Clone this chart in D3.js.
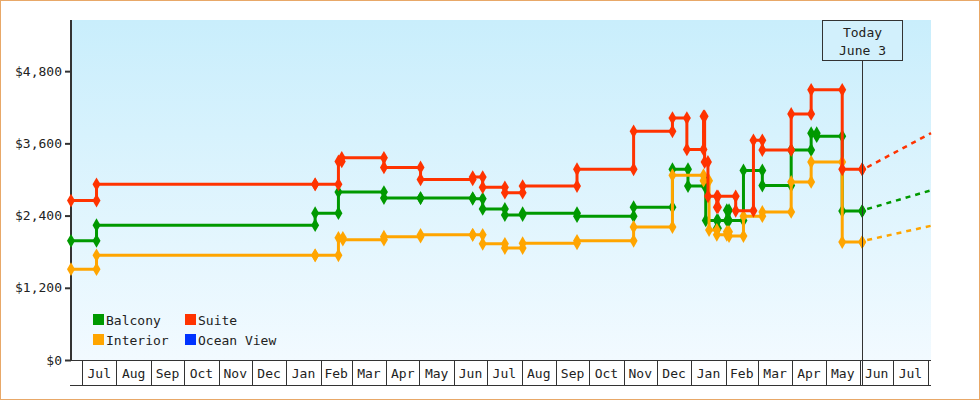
<!DOCTYPE html>
<html><head><meta charset="utf-8">
<script src="https://cdn.jsdelivr.net/npm/d3@7"></script>
<style>body{margin:0;background:#fff}svg{display:block}text{font-family:"DejaVu Sans Mono",monospace;font-size:13px;fill:#222}</style>
</head><body><svg id="c" width="980" height="400"></svg>
<script>
const seriesNames = ["Balcony","Suite","Interior","Ocean View"];
const seriesColors = ["#009900","#ff3300","#ffa500","#0033ff"];
const suite = [["2022-06-21",2650],["2022-07-14",2920],["2023-01-27",2920],["2023-02-17",3300],["2023-02-20",3360],["2023-03-30",3200],["2023-05-02",3000],["2023-06-18",3040],["2023-06-27",2870],["2023-07-17",2780],["2023-08-02",2890],["2023-09-20",3170],["2023-11-10",3800],["2023-12-15",4020],["2023-12-28",3500],["2024-01-12",4050],["2024-01-13",3290],["2024-01-16",2720],["2024-01-24",2540],["2024-01-25",2720],["2024-02-10",2480],["2024-02-26",3650],["2024-03-05",3490],["2024-03-31",4090],["2024-04-18",4490],["2024-05-16",3170],["2024-06-03",3170]];
const balcony = [["2022-06-21",1980],["2022-07-14",2240],["2023-01-27",2440],["2023-02-17",2790],["2023-03-30",2690],["2023-05-02",2690],["2023-06-18",2680],["2023-06-27",2510],["2023-07-17",2410],["2023-08-02",2440],["2023-09-20",2390],["2023-11-10",2540],["2023-12-15",3170],["2023-12-29",2890],["2024-01-13",2970],["2024-01-14",2320],["2024-01-24",2190],["2024-01-25",2320],["2024-02-02",2490],["2024-02-04",2320],["2024-02-17",3150],["2024-03-05",2900],["2024-03-31",3490],["2024-04-18",3770],["2024-04-23",3720],["2024-05-16",2475],["2024-06-03",2475]];
const interior = [["2022-06-21",1510],["2022-07-14",1740],["2023-01-27",1740],["2023-02-17",2030],["2023-02-21",2000],["2023-03-30",2050],["2023-05-02",2080],["2023-06-18",2080],["2023-06-27",1930],["2023-07-17",1860],["2023-08-02",1940],["2023-09-20",1980],["2023-11-10",2210],["2023-12-15",3070],["2024-01-12",2980],["2024-01-17",2160],["2024-01-24",2080],["2024-02-02",2130],["2024-02-04",2060],["2024-02-17",2390],["2024-03-05",2460],["2024-03-31",2960],["2024-04-18",3290],["2024-05-16",1960],["2024-06-03",1960]];
const projectionEnd = {Balcony:2820, Suite:3770, Interior:2230};
const yTicks = [0,1200,2400,3600,4800];
const monthLabels = ["Jul","Aug","Sep","Oct","Nov","Dec","Jan","Feb","Mar","Apr","May","Jun","Jul","Aug","Sep","Oct","Nov","Dec","Jan","Feb","Mar","Apr","May","Jun","Jul"];
const todayLabel = ["Today","June 3"];
const todayDate = "2024-06-03", projDate = "2024-08-04";

const P = d3.timeParse("%Y-%m-%d");
const svg = d3.select("#c");
const L=71,R=931,T=20,B=360;
const x = d3.scaleTime().domain([P("2022-06-21"),P("2024-08-04")]).range([L,R]);
const y = d3.scaleLinear().domain([0,5650]).range([B,T]);
svg.append("rect").attr("x",0.5).attr("y",0.5).attr("width",979).attr("height",399).attr("fill","#fff").attr("stroke","#e8a868");
const g = svg.append("defs").append("linearGradient").attr("id","bg").attr("x1",0).attr("x2",0).attr("y1",0).attr("y2",1);
g.append("stop").attr("offset","0").attr("stop-color","#c9eefc");
g.append("stop").attr("offset","1").attr("stop-color","#f2faff");
svg.append("rect").attr("x",L).attr("y",T).attr("width",R-L).attr("height",B-T).attr("fill","url(#bg)");
// y axis
const ya = svg.append("g").attr("transform",`translate(${L},0)`).call(d3.axisLeft(y).tickValues(yTicks).tickSize(6).tickFormat(d=>"$"+d3.format(",")(d)));
ya.select(".domain").remove();
ya.selectAll("line").attr("stroke","#333").attr("stroke-width",2);
ya.selectAll("text").style("font-family","DejaVu Sans Mono").style("font-size","13px").attr("fill","#333");
svg.append("line").attr("x1",L).attr("x2",L).attr("y1",T).attr("y2",B).attr("stroke","#333").attr("stroke-width",2);
// x axis boxes
const months = d3.timeMonth.range(P("2022-07-01"),P("2024-08-02"));
svg.append("line").attr("x1",L-1).attr("x2",R).attr("y1",B+0.5).attr("y2",B+0.5).attr("stroke","#333");
svg.append("line").attr("x1",L-1).attr("x2",R).attr("y1",385.5).attr("y2",385.5).attr("stroke","#333");
months.forEach((m,i)=>{
  const xx=Math.round(x(m))+0.5;
  svg.append("line").attr("x1",xx).attr("x2",xx).attr("y1",B).attr("y2",385).attr("stroke","#333");
  if(i<monthLabels.length){
    const nx=x(d3.timeMonth.offset(m,1));
    svg.append("text").attr("x",(x(m)+nx)/2).attr("y",378).attr("text-anchor","middle").text(monthLabels[i]);
  }
});
// series
const data=[["Balcony",balcony,seriesColors[0]],["Interior",interior,seriesColors[2]],["Suite",suite,seriesColors[1]]];
const line=d3.line().x(d=>x(P(d[0]))).y(d=>y(d[1])).curve(d3.curveStepAfter);
const diamond=d3.symbol().type(d3.symbolDiamond).size(55);
data.forEach(([name,s,c])=>{
  const last=s[s.length-1];
  svg.append("line").attr("x1",x(P(last[0]))+5).attr("y1",y(last[1])-2).attr("x2",x(P(projDate))).attr("y2",y(projectionEnd[name]))
    .attr("stroke",c).attr("stroke-width",2.5).attr("stroke-dasharray","5,5");
  svg.append("path").attr("d",line(s)).attr("fill","none").attr("stroke",c).attr("stroke-width",3);
  const pts=[];
  s.forEach((d,i)=>{pts.push(d); if(i>0) pts.push([d[0],s[i-1][1]]);});
  svg.selectAll(null).data(pts).enter().append("path").attr("d",diamond)
    .attr("transform",d=>`translate(${x(P(d[0]))},${y(d[1])})`).attr("fill",c);
});
// today
const tx=Math.round(x(P(todayDate)))+0.5;
svg.append("line").attr("x1",tx).attr("x2",tx).attr("y1",60).attr("y2",385).attr("stroke","#333");
svg.append("rect").attr("x",tx-40).attr("y",20.5).attr("width",80).attr("height",40).attr("fill","#d2f0fc").attr("stroke","#333");
todayLabel.forEach((t,i)=>svg.append("text").attr("x",tx).attr("y",37+i*18).attr("text-anchor","middle").text(t));
// legend
const leg=[[0,0],[1,92],[2,0],[3,92]];
[0,1,2,3].forEach(i=>{
  const col=i%2, row=Math.floor(i/2);
  const lx=93+col*92, ly=314+row*20;
  svg.append("rect").attr("x",lx).attr("y",ly).attr("width",11).attr("height",11).attr("fill",seriesColors[i]);
  svg.append("text").attr("x",lx+13).attr("y",ly+11).text(seriesNames[i]);
});
</script></body></html>
